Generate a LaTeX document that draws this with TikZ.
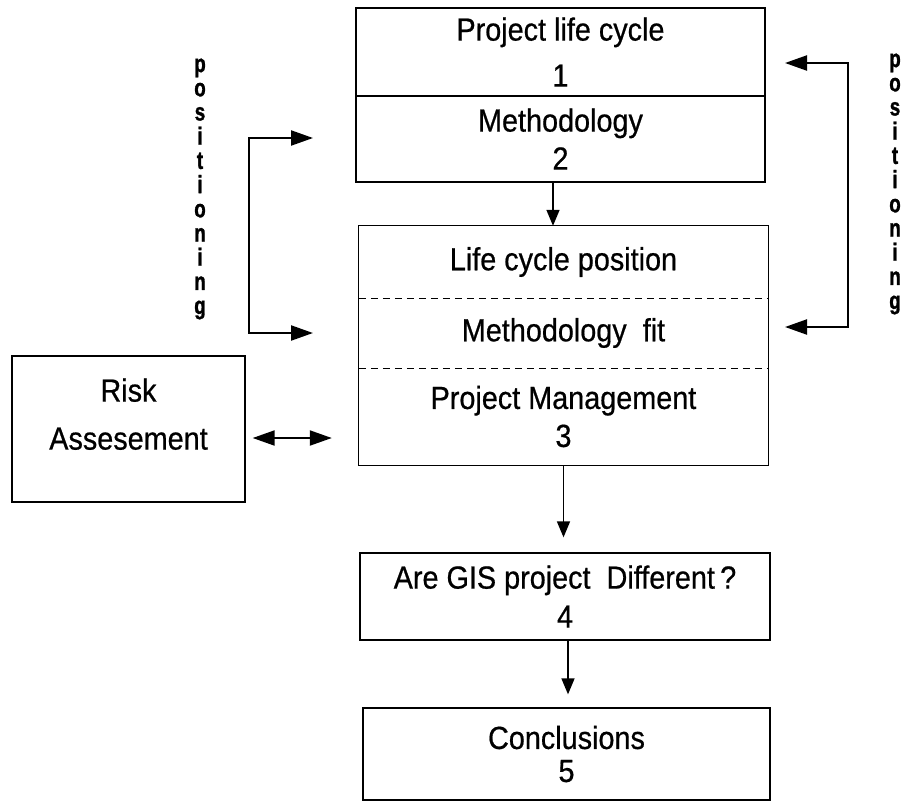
\documentclass[tikz,border=0pt]{standalone}
\usepackage{fontspec}
\setmainfont[FakeStretch=0.9,FakeBold=0.6]{Liberation Sans}
\newfontfamily\posfont[FakeStretch=0.75,FakeBold=1.2]{Liberation Sans}
\usetikzlibrary{arrows.meta}

\begin{document}
\begin{tikzpicture}[x=1pt,y=-1pt,
    box/.style={draw,line width=1.3pt,inner sep=0pt,align=center},
    part/.style={inner sep=0pt,align=center,minimum width=409pt},
    txt/.style={font=\fontsize{32}{#1}\selectfont},
    vlet/.style={font=\posfont\bfseries\fontsize{25}{24.2}\selectfont,align=center},
    arr/.style={-{Triangle[length=16pt,width=13pt]},line width=1.6pt},
    brk/.style={{Triangle[length=22pt,width=15pt]}-{Triangle[length=22pt,width=15pt]},line width=2.2pt},
    sep/.style={line width=1pt,dash pattern=on 7pt off 5pt}]
\useasboundingbox (0,0) rectangle (907,801);

% top box, two parts
\node[box,minimum width=409pt,minimum height=88pt,txt=46] at (560.5,52) (plc) {Project life cycle\\1};
\node[box,minimum width=409pt,minimum height=86pt,txt=38] at (560.5,139) (meth) {Methodology\\2};

% middle box with dashed parts
\node[part,minimum height=72pt,txt=34] at (563.5,262) (lcp) {Life cycle position};
\node[part,minimum height=70pt,txt=34] at (563.5,333) (fit) {Methodology\ \ fit};
\node[part,minimum height=97pt,txt=38] at (563.5,416.5) (pm) {Project Management\\3};
\draw[line width=1.3pt] (lcp.north west) rectangle (pm.south east);
\draw[sep] (lcp.south west) -- (lcp.south east);
\draw[sep] (fit.south west) -- (fit.south east);

\node[box,minimum width=410pt,minimum height=87pt,txt=39] at (565,596.5) (gis) {Are GIS project\ \ Different\,?\\4};
\node[box,minimum width=407pt,minimum height=92pt,txt=33] at (566.5,754) (conc) {Conclusions\\5};

\node[box,minimum width=233pt,minimum height=146pt,txt=48,text depth=30pt] at (128.5,429) (risk) {Risk\\Assesement};

\node[vlet] at (200,189) (posl) {p\\o\\s\\i\\t\\i\\o\\n\\i\\n\\g};
\node[vlet] at (895,184) (posr) {p\\o\\s\\i\\t\\i\\o\\n\\i\\n\\g};

\coordinate (l1) at (313,138);
\coordinate (l2) at (313,333);
\coordinate (r1) at (785,63);
\coordinate (r2) at (785,327);

\draw[brk] (l1) -- (249,138) -- (249,333) -- (l2);
\draw[brk] (r1) -- (848,63) -- (848,327) -- (r2);

\draw[arr] ([xshift=-7.5pt]meth.south) -- ([xshift=-7.5pt]meth.south |- lcp.north);
\draw[arr,shorten >=15pt] (pm.south) -- (pm.south |- gis.north);
\draw[arr,shorten >=13pt] ([xshift=3pt]gis.south) -- ([xshift=3pt]gis.south |- conc.north);
\draw[brk,line width=2pt,shorten <=7pt,shorten >=27pt] ([yshift=-9pt]risk.east) -- ([yshift=-9pt]risk.east -| pm.west);
\end{tikzpicture}
\end{document}
